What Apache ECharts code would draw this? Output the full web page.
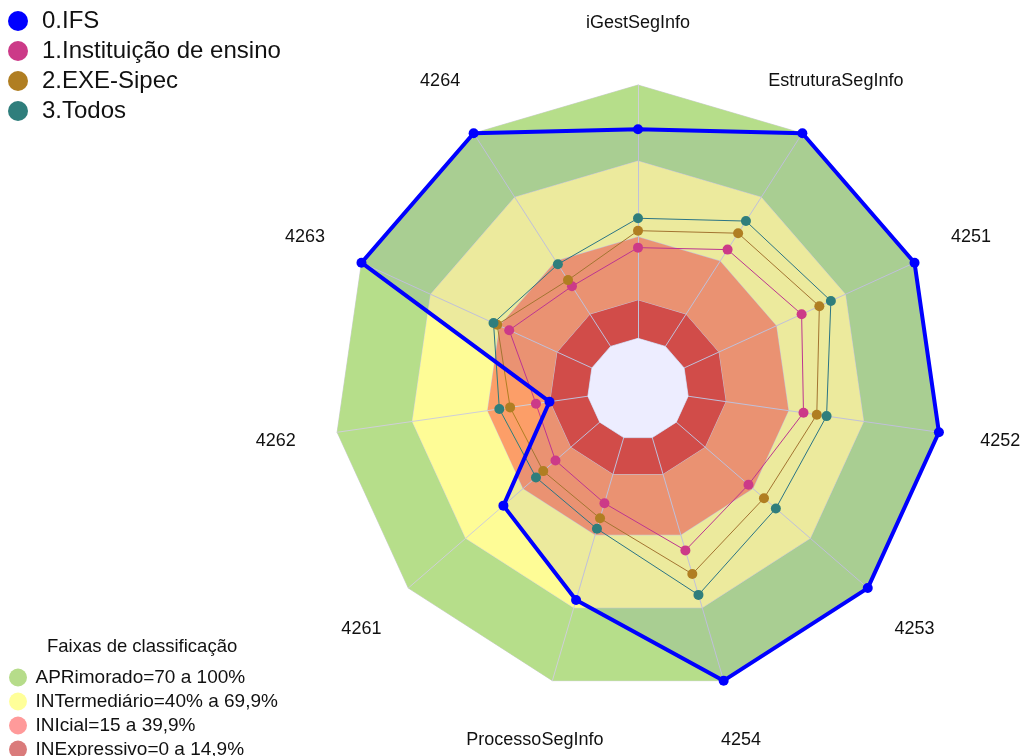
<!DOCTYPE html>
<html>
<head>
<meta charset="utf-8">
<title>Radar SegInfo</title>
<script src="https://cdn.jsdelivr.net/npm/echarts@6/dist/echarts.min.js"></script>
<style>
  html, body { margin: 0; padding: 0; background: #fff; }
  #chart { width: 1020px; height: 756px; }
</style>
</head>
<body>
<div id="chart"></div>
<script>
// eixos no sentido horario, comecando no topo
const eixos = ['iGestSegInfo', 'EstruturaSegInfo', '4251', '4252', '4253', '4254',
  'ProcessoSegInfo', '4261', '4262', '4263', '4264'];

// valores (%) de cada grupo, mesma ordem dos eixos
const ifs = [82.5, 100, 100, 100, 100, 100, 66.8, 50.3, 15.3, 100, 100];
const instituicao = [35.8, 45.4, 51, 46, 37.7, 46.4, 27, 23.1, 20.7, 35.9, 28.2];
const exeSipec = [42.5, 53.1, 58.7, 51.3, 45.8, 56.1, 33.2, 29.5, 31, 41.1, 31.1];
const todos = [47.4, 58.8, 63.7, 55.2, 52, 64.7, 37.5, 33.3, 35.3, 42.7, 38.5];

const grupos = ['0.IFS', '1.Instituição de ensino', '2.EXE-Sipec', '3.Todos'];
const gruposCores = ['#0000ff', '#cc3a88', '#b07e22', '#2f7e7c'];

// faixas de classificacao (limite externo de cada faixa)
const faixas = ['APRimorado=70 a 100%', 'INTermediário=40% a 69,9%', 'INIcial=15 a 39,9%', 'INExpressivo=0 a 14,9%'];
const faixasLimite = [100, 70, 40, 15];
const faixasArea = ['#b6de8a', '#fefc96', '#fc9e68', '#e1523c'];
const faixasLegenda = ['#b6dc8a', '#ffff99', '#ff9a9a', '#da7b7b'];

const escalaMin = -20;
const escalaMax = 100;
const fonte = 'Liberation Sans, Arial, sans-serif';

// o radar do echarts gira no sentido anti-horario: inverte a ordem
const ordem = eixos.map((_, i) => (eixos.length - i) % eixos.length);
const reordena = (arr) => ordem.map((i) => arr[i]);

const seriesFaixas = faixas.map((nome, i) => ({
  type: 'radar',
  name: nome,
  z: -1,
  silent: true,
  symbol: 'none',
  itemStyle: { color: faixasLegenda[i] },
  lineStyle: { color: '#d2d2da', width: 1 },
  areaStyle: { color: faixasArea[i], opacity: 1 },
  data: [{ name: nome, value: eixos.map(() => faixasLimite[i]) }],
}));

// miolo branco (abaixo de zero)
const serieMiolo = {
  type: 'radar',
  name: 'miolo',
  z: 1,
  silent: true,
  symbol: 'none',
  lineStyle: { color: '#d2d2da', width: 1 },
  areaStyle: { color: '#ffffff', opacity: 1 },
  data: [{ name: 'miolo', value: eixos.map(() => 0) }],
};

const valores = [ifs, instituicao, exeSipec, todos];
const seriesGrupos = [1, 2, 3, 0].map((g) => ({
  type: 'radar',
  name: grupos[g],
  z: 2,
  symbol: 'circle',
  symbolSize: 10,
  itemStyle: { color: gruposCores[g], borderWidth: 0 },
  lineStyle: { color: gruposCores[g], width: g === 0 ? 4 : 1 },
  areaStyle: g === 0 ? { color: 'rgba(0,0,255,0.1)' } : undefined,
  data: [{ name: grupos[g], value: reordena(valores[g]) }],
}));

const option = {
  animation: false,
  textStyle: { fontFamily: fonte },
  title: {
    text: 'Faixas de classificação',
    left: 47,
    top: 637,
    padding: 0,
    textStyle: { fontSize: 18.5, fontWeight: 'normal', color: '#111', fontFamily: fonte },
  },
  legend: [
    {
      data: grupos.map((n, i) => ({ name: n, itemStyle: { color: gruposCores[i] } })),
      orient: 'vertical',
      left: 8,
      top: 9,
      padding: 0,
      icon: 'circle',
      itemWidth: 38,
      itemHeight: 20,
      itemGap: 6,
      selectedMode: false,
      textStyle: { fontSize: 24, color: '#111', fontFamily: fonte },
    },
    {
      data: faixas.map((n, i) => ({ name: n, itemStyle: { color: faixasLegenda[i] } })),
      orient: 'vertical',
      left: 9,
      top: 668,
      height: 120,
      padding: 0,
      icon: 'circle',
      itemWidth: 25,
      itemHeight: 18,
      itemGap: 5,
      selectedMode: false,
      textStyle: { fontSize: 19, color: '#111', fontFamily: fonte },
    },
  ],
  radar: {
    center: [638, 389],
    radius: 304,
    startAngle: 90,
    shape: 'polygon',
    splitNumber: 1,
    nameGap: 62,
    indicator: reordena(eixos).map((n) => ({ name: n, min: escalaMin, max: escalaMax })),
    axisName: { color: '#111', fontSize: 18, fontFamily: fonte, align: 'center', verticalAlign: 'middle' },
    axisLine: { show: true, lineStyle: { color: '#cfcfd8', width: 1 } },
    axisTick: { show: false },
    axisLabel: { show: false },
    splitLine: { show: false },
    splitArea: { show: false },
  },
  series: [...seriesFaixas, serieMiolo, ...seriesGrupos],
};

const chart = echarts.init(document.getElementById('chart'));
chart.setOption(option);
</script>
</body>
</html>
